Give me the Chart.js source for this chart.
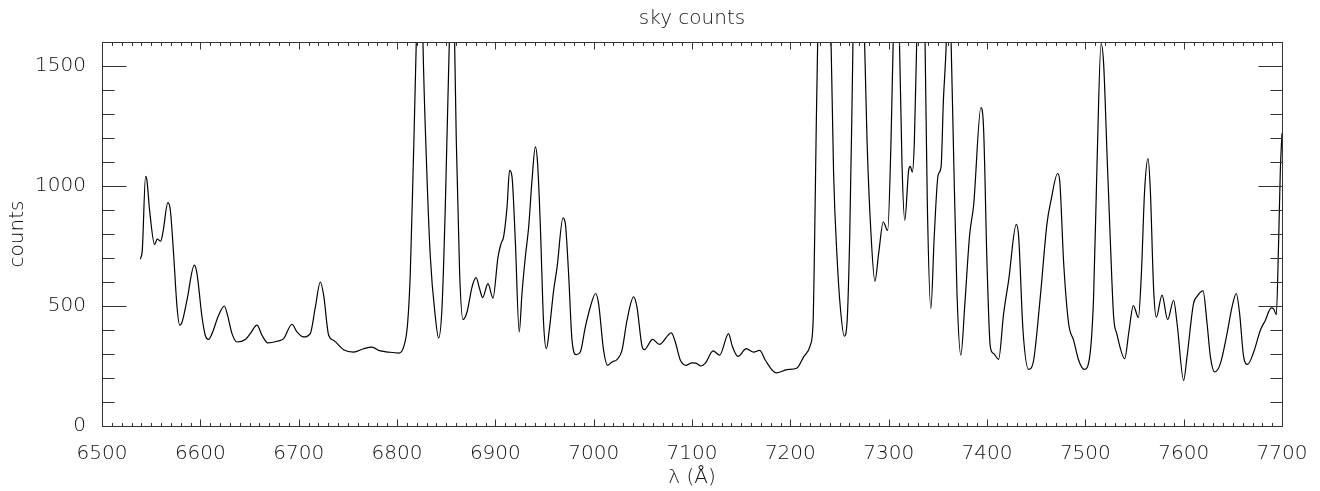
<!DOCTYPE html>
<html>
<head>
<meta charset="utf-8">
<script src="https://cdn.jsdelivr.net/npm/chart.js@4"></script>
<style>
  html, body { margin: 0; padding: 0; background: #fff; }
  #wrap { width: 1320px; height: 491px; }
</style>
</head>
<body>
<div id="wrap"><canvas id="skyChart"></canvas></div>
<script>
// wavelength (Angstrom) and sky counts
const wavelength = [
  6539, 6541, 6544.3, 6545.5, 6548.4, 6553.5, 6556.2, 6559.6, 6562, 6567, 6569.5, 6572.8, 6576.3, 6579, 6581.4, 6586.4,
  6593.9, 6596.6, 6601.7, 6605, 6608.4, 6611.9, 6618.6, 6624.4, 6627.7, 6632.2, 6637.3, 6645.7, 6650.8, 6657.6, 6662.7,
  6668.8, 6678, 6684.7, 6693.2, 6698.3, 6705, 6711.8, 6717, 6722, 6725.4, 6730.5, 6735.5, 6745.7, 6755.9, 6766, 6774.6,
  6781.3, 6791.5, 6801.6, 6806.7, 6810.8, 6813.5, 6816.3, 6819.6, 6823, 6826.4, 6829.8, 6833.9, 6839, 6842.3, 6845.8,
  6849.1, 6853.2, 6855.9, 6858.6, 6860.3, 6863.7, 6867.1, 6871.2, 6876.3, 6880.4, 6884, 6887.1, 6892.5, 6897.6, 6902.7,
  6905.8, 6908.4, 6911.9, 6914.5, 6917, 6920.3, 6924.3, 6927.1, 6930.5, 6933.9, 6937.3, 6940.7, 6943, 6945.7, 6949.1,
  6951.9, 6955.2, 6959.3, 6962.8, 6968.8, 6971.2, 6974.5, 6978, 6982.4, 6986.4, 6991.5, 6996.6, 7002, 7005, 7010.1,
  7014.2, 7018.7, 7023.7, 7028.8, 7033.9, 7040.6, 7044, 7049, 7051.5, 7060, 7066.8, 7079, 7083, 7088.2, 7094.2, 7100,
  7104, 7109, 7113.6, 7121.4, 7128.1, 7137.2, 7140.7, 7146.8, 7155.2, 7162.7, 7168.8, 7174.6, 7185.7, 7196.6, 7206.8,
  7213.5, 7220.3, 7223.1, 7224.7, 7226.4, 7227.8, 7231, 7234.5, 7238, 7241.4, 7244, 7247.5, 7250.8, 7254.9, 7257.6,
  7260.3, 7262.7, 7263.7, 7269.6, 7275.5, 7278, 7282, 7286, 7289.8, 7294.5, 7299, 7302.4, 7304.6, 7307.8, 7311, 7313.6,
  7316.4, 7320.3, 7322, 7324, 7326.1, 7328.5, 7332.8, 7337, 7339.3, 7342.9, 7346.4, 7350.3, 7353.3, 7355.6, 7358.6,
  7361, 7363.5, 7366, 7369.5, 7373.4, 7377.5, 7382.3, 7386.4, 7393.8, 7396.6, 7400, 7403.4, 7406.7, 7411.8, 7416.9,
  7422, 7429.8, 7432.2, 7436.6, 7442.3, 7447.4, 7454.2, 7461, 7465.1, 7471.8, 7473.9, 7478, 7483, 7488.1, 7493.2, 7499,
  7504.4, 7508.4, 7511.9, 7516, 7518.6, 7522, 7525.4, 7528.8, 7532, 7540, 7544.5, 7548.8, 7554, 7557, 7560.3, 7563.8,
  7566.1, 7569.5, 7572.2, 7578, 7583.7, 7589.8, 7593.3, 7600, 7603.4, 7610, 7613.6, 7619.7, 7623.8, 7627.2, 7631.5,
  7637.3, 7644.1, 7649.2, 7653.5, 7656.9, 7661, 7665, 7671.2, 7678, 7683, 7689.1, 7691.5, 7694.2, 7696.6, 7698.3, 7700
];
const skyCounts = [
  695, 735, 1040, 1030, 899, 756, 779, 770, 808, 931, 899, 718, 496, 420, 433, 524,
  670, 635, 454, 378, 361, 385, 461, 500, 461, 385, 350, 360, 385, 420, 378,
  346, 353, 364, 424, 392, 371, 385, 496, 600, 545, 378, 357, 318, 308, 322, 329,
  315, 308, 304, 329, 427, 635, 1052, 1600, 2500, 1600, 1121, 704, 454, 367, 496,
  912, 1600, 2200, 1600, 1190, 635, 443, 475, 579, 618, 572, 535, 593, 533, 704,
  760, 788, 912, 1065, 1037, 774, 392, 552, 704, 829, 1024, 1163, 1093, 843, 427,
  322, 412, 565, 662, 867, 843, 635, 357, 297, 308, 412, 496, 552, 510, 315,
  253, 267, 277, 315, 440, 538, 496, 336, 318, 361, 340, 388, 350, 274, 253, 263,
  262, 250, 262, 313, 295, 385, 336, 290, 322, 308, 315, 274, 221, 235, 242,
  288, 336, 427, 774, 1260, 1600, 2600, 3000, 2600, 1600, 1052, 704, 496, 374, 427,
  774, 1329, 1600, 3000, 1600, 1190, 802, 603, 718, 850, 815, 1190, 1600, 2400, 1600, 1085,
  857, 1065, 1082, 1058, 1180, 1600, 2500, 1600, 930, 490, 795, 1045, 1080, 1350, 1600,
  2000, 1600, 1140, 550, 295, 510, 795, 920, 1327, 1232, 677, 329, 302, 278, 468,
  607, 840, 788, 399, 236, 274, 538, 843, 940, 1052, 1024, 677, 427, 357, 274, 236,
  288, 538, 1093, 1593, 1510, 1140, 774, 454, 385, 281, 399, 502, 452, 635, 982, 1114,
  982, 565, 454, 545, 443, 524, 427, 190, 288, 510, 540, 563, 427, 288, 225,
  260, 385, 496, 552, 468, 288, 257, 308, 399, 440, 492, 488, 464, 774, 1065, 1220
];

const xTicks = [6500, 6600, 6700, 6800, 6900, 7000, 7100, 7200, 7300, 7400, 7500, 7600, 7700];
const yTicks = [0, 500, 1000, 1500];
const xRange = [6500, 7700];
const yRange = [0, 1600];
const xMinorStep = 10;
const yMinorStep = 100;

const textColor = '#111';
const frameColor = '#333';
const labelFont = { family: "'DejaVu Sans', sans-serif", size: 20, weight: 200 };

// IDL style box with ticks pointing inwards on all four sides
const boxTicks = {
  id: 'boxTicks',
  afterDraw(chart) {
    const { ctx, chartArea: a, scales: { x, y } } = chart;
    const L = Math.round(a.left) + 0.5, R = Math.round(a.right) + 0.5;
    const T = Math.round(a.top) + 0.5, B = Math.round(a.bottom) + 0.5;
    ctx.save();
    ctx.strokeStyle = frameColor;
    ctx.lineWidth = 1;
    ctx.beginPath();
    ctx.rect(L, T, R - L, B - T);
    const nx = Math.round((xRange[1] - xRange[0]) / xMinorStep);
    for (let i = 0; i <= nx; i++) {
      const v = xRange[0] + i * xMinorStep;
      const px = Math.round(x.getPixelForValue(v)) + 0.5;
      const len = xTicks.includes(v) ? 7 : 3.5;
      ctx.moveTo(px, B); ctx.lineTo(px, B - len);
      ctx.moveTo(px, T); ctx.lineTo(px, T + len);
    }
    const ny = Math.round((yRange[1] - yRange[0]) / yMinorStep);
    for (let i = 0; i <= ny; i++) {
      const v = yRange[0] + i * yMinorStep;
      const py = Math.round(y.getPixelForValue(v)) + 0.5;
      const len = yTicks.includes(v) ? 24 : 12;
      ctx.moveTo(L, py); ctx.lineTo(L + len, py);
      ctx.moveTo(R, py); ctx.lineTo(R - len, py);
    }
    ctx.stroke();
    ctx.restore();
  }
};

const ctx = document.getElementById('skyChart').getContext('2d');

new Chart(ctx, {
  type: 'line',
  data: {
    datasets: [{
      data: wavelength.map((w, i) => ({ x: w, y: skyCounts[i] })),
      borderColor: '#000',
      borderWidth: 1.2,
      pointRadius: 0,
      cubicInterpolationMode: 'monotone',
      fill: false
    }]
  },
  options: {
    responsive: true,
    maintainAspectRatio: false,
    animation: false,
    layout: { padding: { left: 0, right: 38, top: 0, bottom: 0 } },
    plugins: {
      legend: { display: false },
      tooltip: { enabled: false },
      title: {
        display: true,
        fullSize: false,
        text: 'sky counts',
        color: textColor,
        font: labelFont,
        padding: { top: 7, bottom: 11 }
      }
    },
    scales: {
      x: {
        type: 'linear',
        min: xRange[0],
        max: xRange[1],
        afterBuildTicks: s => { s.ticks = xTicks.map(v => ({ value: v })); },
        afterFit: s => { s.height = 65; },
        ticks: {
          color: textColor,
          font: labelFont,
          padding: 8,
          maxRotation: 0,
          autoSkip: false,
          callback: v => String(v)
        },
        grid: { display: false },
        border: { display: false },
        title: {
          display: true,
          text: 'λ (Å)',
          color: textColor,
          font: labelFont,
          padding: { top: 0, bottom: 1 }
        }
      },
      y: {
        min: yRange[0],
        max: yRange[1],
        afterBuildTicks: s => { s.ticks = yTicks.map(v => ({ value: v })); },
        afterFit: s => { s.width = 102; },
        ticks: {
          color: textColor,
          font: labelFont,
          padding: 8,
          callback: v => String(v)
        },
        grid: { display: false },
        border: { display: false },
        title: {
          display: true,
          text: 'counts',
          color: textColor,
          font: labelFont,
          padding: { top: 6, bottom: 0 }
        }
      }
    }
  },
  plugins: [boxTicks]
});
</script>
</body>
</html>
